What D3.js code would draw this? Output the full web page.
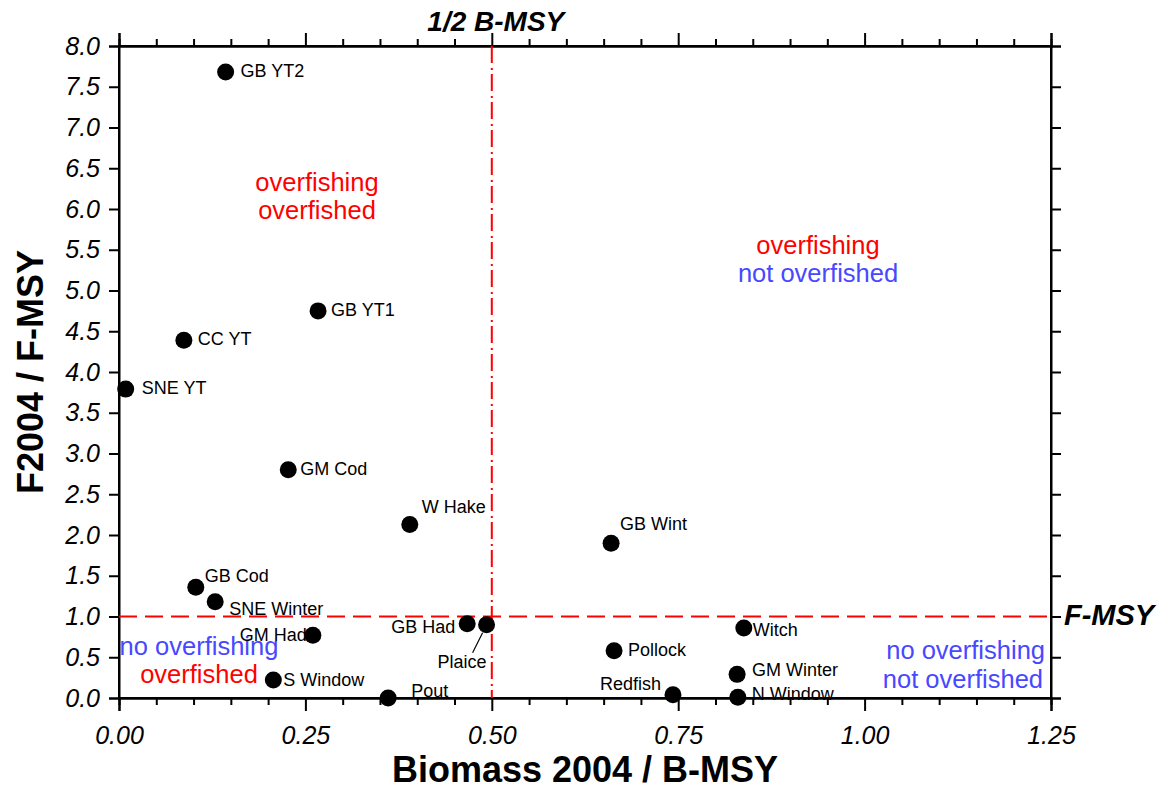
<!DOCTYPE html>
<html><head><meta charset="utf-8">
<script src="https://cdn.jsdelivr.net/npm/d3@7"></script>
<style>html,body{margin:0;padding:0;background:#fff;}svg{display:block;font-family:"Liberation Sans",Arial,sans-serif;}</style>
</head><body>
<svg id="chart" width="1161" height="801"></svg>
<script>
// ---- data ----
const stocks = ["GB YT2","GB YT1","CC YT","SNE YT","GM Cod","W Hake","GB Wint","GB Cod","SNE Winter","GM Had","GB Had","Plaice","Witch","Pollock","GM Winter","S Window","Redfish","N Window","Pout"];
const biomass = [0.143,0.267,0.087,0.009,0.227,0.390,0.660,0.103,0.129,0.260,0.467,0.493,0.838,0.664,0.829,0.207,0.743,0.830,0.361];
const fRatio = [7.68,4.75,4.39,3.79,2.80,2.13,1.90,1.36,1.18,0.77,0.91,0.90,0.86,0.58,0.29,0.22,0.04,0.01,0.00];
const xTicks = [0,0.25,0.5,0.75,1.0,1.25];
const xTickLabels = ["0.00","0.25","0.50","0.75","1.00","1.25"];
const yTicks = [0,0.5,1,1.5,2,2.5,3,3.5,4,4.5,5,5.5,6,6.5,7,7.5,8];
const yTickLabels = ["0.0","0.5","1.0","1.5","2.0","2.5","3.0","3.5","4.0","4.5","5.0","5.5","6.0","6.5","7.0","7.5","8.0"];
const bHalf = 0.5, fMsy = 1.0;

// ---- layout (not data) ----
const labelLayout = {
  "GB YT2":[15,0,"start"],"GB YT1":[13,0,"start"],"CC YT":[14,0,"start"],"SNE YT":[16,0,"start"],
  "GM Cod":[12,0,"start"],"W Hake":[12,-16,"start"],"GB Wint":[9,-18,"start"],"GB Cod":[9,-10,"start"],
  "SNE Winter":[14,8,"start"],"GM Had":[-6,1,"end"],"GB Had":[-12,4,"end"],"Plaice":[0,39,"end"],
  "Witch":[9,3,"start"],"Pollock":[14,1,"start"],"GM Winter":[15,-3,"start"],"S Window":[10,1,"start"],
  "Redfish":[-12,-9,"end"],"N Window":[14,-2,"start"],"Pout":[23,-6,"start"]
};

const svg = d3.select("#chart");
const L = 119, R = 1051, T = 46, B = 698;
const x = d3.scaleLinear().domain([0,1.25]).range([L,R]);
const y = d3.scaleLinear().domain([0,8]).range([B,T]);
const red = "#ff0000", blue = "#4848ff";

// axes
const minorX = d3.range(0,1.2501,0.05);
svg.append("g").attr("transform",`translate(0,${B})`)
  .call(d3.axisBottom(x).tickValues(xTicks).tickFormat((d,i)=>xTickLabels[i]).tickSizeOuter(0).tickSize(13).tickPadding(15));
svg.append("g").attr("transform",`translate(0,${B})`)
  .call(d3.axisBottom(x).tickValues(minorX.filter((d,i)=>i%5)).tickFormat("").tickSizeOuter(0).tickSize(7));
svg.append("g").attr("transform",`translate(0,${T})`)
  .call(d3.axisTop(x).tickValues(xTicks).tickFormat("").tickSizeOuter(0).tickSize(13));
svg.append("g").attr("transform",`translate(0,${T})`)
  .call(d3.axisTop(x).tickValues(minorX.filter((d,i)=>i%5)).tickFormat("").tickSizeOuter(0).tickSize(7));
svg.append("g").attr("transform",`translate(${L},0)`)
  .call(d3.axisLeft(y).tickValues(yTicks).tickFormat((d,i)=>yTickLabels[i]).tickSizeOuter(0).tickSize(10).tickPadding(9));
svg.append("g").attr("transform",`translate(${R},0)`)
  .call(d3.axisRight(y).tickValues(yTicks).tickFormat("").tickSizeOuter(0).tickSize(10));
svg.selectAll(".domain, .tick line").attr("stroke","#000").attr("stroke-width",2);
svg.selectAll(".tick text").attr("font-size",25).attr("font-style","italic").attr("fill","#000")
  .attr("font-family","'Liberation Sans',Arial,sans-serif");
svg.append("rect").attr("x",L).attr("y",T).attr("width",R-L).attr("height",B-T)
  .attr("fill","none").attr("stroke","#000").attr("stroke-width",2);

// reference lines
svg.append("line").attr("x1",x(bHalf)).attr("x2",x(bHalf)).attr("y1",T).attr("y2",B)
  .attr("stroke",red).attr("stroke-width",2).attr("stroke-dasharray","17,5,2,4");
svg.append("line").attr("x1",L).attr("x2",R).attr("y1",y(fMsy)).attr("y2",y(fMsy))
  .attr("stroke",red).attr("stroke-width",2).attr("stroke-dasharray","18,8");

// quadrant texts
const qt = (tx,ty,txt,col,anchor) => svg.append("text").attr("x",tx).attr("y",ty).attr("fill",col)
  .attr("font-size",25.5).attr("text-anchor",anchor).attr("dominant-baseline","middle").text(txt);
qt(317,184,"overfishing",red,"middle");
qt(317,212,"overfished",red,"middle");
qt(818,247,"overfishing",red,"middle");
qt(818,275,"not overfished",blue,"middle");
qt(199,648,"no overfishing",blue,"middle");
qt(199,676,"overfished",red,"middle");
qt(1045,652,"no overfishing",blue,"end");
qt(1043,681,"not overfished",blue,"end");

// labels (under points)
const data = stocks.map((s,i)=>({name:s,b:biomass[i],f:fRatio[i]}));
svg.append("g").selectAll("text").data(data).join("text")
  .attr("x",d=>x(d.b)+labelLayout[d.name][0])
  .attr("y",d=>y(d.f)+labelLayout[d.name][1])
  .attr("text-anchor",d=>labelLayout[d.name][2])
  .attr("dominant-baseline","middle").attr("font-size",18).attr("fill","#000")
  .text(d=>d.name);
// Plaice leader
const pl = data.find(d=>d.name==="Plaice");
svg.append("line").attr("x1",x(pl.b)-4).attr("y1",y(pl.f)+8).attr("x2",x(pl.b)-14).attr("y2",y(pl.f)+28)
  .attr("stroke","#000").attr("stroke-width",1.2);

// points
svg.append("g").selectAll("circle").data(data).join("circle")
  .attr("cx",d=>x(d.b)).attr("cy",d=>y(d.f)).attr("r",8.5).attr("fill","#000");

// titles
svg.append("text").attr("x",585).attr("y",782).attr("text-anchor","middle")
  .attr("font-size",36).attr("font-weight","bold").text("Biomass 2004 / B-MSY");
svg.append("text").attr("transform",`translate(43,${(T+B)/2}) rotate(-90)`).attr("text-anchor","middle")
  .attr("font-size",36).attr("font-weight","bold").text("F2004 / F-MSY");
svg.append("text").attr("x",x(bHalf)+4).attr("y",31).attr("text-anchor","middle")
  .attr("font-size",28).attr("font-weight","bold").attr("font-style","italic").text("1/2 B-MSY");
svg.append("text").attr("x",R+13).attr("y",y(fMsy)+1).attr("dominant-baseline","middle")
  .attr("font-size",29).attr("font-weight","bold").attr("font-style","italic").text("F-MSY");
</script>
</body></html>
